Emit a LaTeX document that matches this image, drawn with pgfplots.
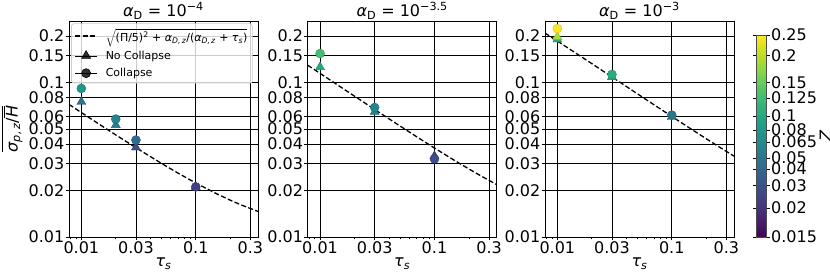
\documentclass[border=0pt]{standalone}
\usepackage{fontspec}
\setmainfont{DejaVu Sans}
\usepackage{pgfplots}
\pgfplotsset{compat=1.18}
\usepgfplotslibrary{colormaps}
\newcommand{\ylab}{$\overline{\mbox{{\itshape σ}\textsubscript{\itshape p,\,z}/$\overline{\mbox{\itshape H}}$}}$}
\pgfplotsset{
  colormap/viridis,
  fitline/.style={black, line width=1.3bp, dash pattern=on 5bp off 2.4bp},
  circ/.style={scatter, only marks, scatter src=explicit, mark=*, mark size=4.5bp, forget plot},
  tri/.style={scatter, only marks, scatter src=explicit, mark=triangle*, mark size=5.2bp, forget plot},
  lineleg/.style={legend image code/.code={\draw[##1] (0bp,0bp) -- (22bp,0bp);}},
  markleg/.style={legend image code/.code={\path (0bp,0bp) -- (22bp,0bp); \draw[##1] plot coordinates {(11bp,0bp)};}},
}
\begin{document}
\begin{tikzpicture}
\path[use as bounding box] (0,0) rectangle (830bp,277bp);
% Panel 1
\begin{axis}[at={(69bp,40bp)},
    anchor=south west, scale only axis, width=189bp, height=216bp,
    xmode=log, ymode=log, xmin=0.0078, xmax=0.35, ymin=0.01, ymax=0.25,
    xtick={0.01,0.03,0.1,0.3}, xticklabels={0.01,0.03,0.1,0.3},
    minor xtick={0.008,0.009,0.02,0.04,0.05,0.06,0.07,0.08,0.09,0.2},
    ytick={0.01,0.02,0.03,0.04,0.05,0.06,0.08,0.1,0.15,0.2},
    yticklabels={0.01,0.02,0.03,0.04,0.05,0.06,0.08,0.1,0.15,0.2},
    grid=major, major grid style={black, line width=0.7bp},
    tick align=outside, major tick length=3.5bp, minor tick length=2bp,
    tick style={black, line width=0.7bp},
    xtick pos=left, ytick pos=left,
    axis line style={black, line width=0.8bp},
    tick label style={font=\fontsize{16bp}{19bp}\selectfont},
    yticklabel style={inner xsep=1bp},
    xticklabel style={inner ysep=1bp},
    xlabel={{\itshape τ}\textsubscript{\itshape s}},
    xlabel style={font=\fontsize{16bp}{19bp}\selectfont, at={(axis description cs:0.5,-0.1375)}, anchor=base},
    title style={font=\fontsize{16bp}{19bp}\selectfont, at={(axis description cs:0.5,0.992)}, anchor=base},
    point meta min=0, point meta max=1,
  title={{\itshape α}\textsubscript{D} = 10\textsuperscript{−4}},
  ylabel={\ylab},
  ylabel style={font=\fontsize{16bp}{19bp}\selectfont, at={(axis description cs:-0.30,0.5)}, anchor=center},
  legend style={at={(axis description cs:0.972,0.989)}, anchor=north east,
    draw=black!20, line width=0.6bp, rounded corners=2.5bp, fill=white, fill opacity=0.8, text opacity=1,
    font=\fontsize{11bp}{13bp}\selectfont, inner xsep=3bp, inner ysep=3bp, row sep=3.5bp,
    /tikz/every odd column/.append style={column sep=6bp}},
  legend cell align=left]
\addplot[fitline, lineleg] coordinates {
(0.0078,0.07213) (0.01,0.06391) (0.015,0.05253) (0.02,0.04578) (0.03,0.03784) (0.05,0.02999)
(0.07,0.02591) (0.1,0.02236) (0.15,0.01915) (0.2,0.01732) (0.25,0.01612) (0.35,0.01464)};
\addlegendentry{$\sqrt{\mbox{(Π/5)\textsuperscript{2} + {\itshape α}\textsubscript{\itshape D,\,z}/({\itshape α}\textsubscript{\itshape D,\,z} + {\itshape τ}\textsubscript{\itshape s})}}$}
\addlegendimage{black, only marks, mark=triangle*, mark size=5.2bp, markleg}
\addlegendentry{No Collapse}
\addlegendimage{black, only marks, mark=*, mark size=4.5bp, markleg}
\addlegendentry{Collapse}
\addplot[tri] coordinates {(0.01,0.0749)[0.38] (0.02,0.053)[0.41] (0.03,0.038)[0.24] (0.1,0.0211)[0.17]};
\addplot[circ] coordinates {(0.01,0.0915)[0.53] (0.02,0.058)[0.45] (0.03,0.0424)[0.35] (0.1,0.0211)[0.18]};
\end{axis}
% Panel 2
\begin{axis}[at={(307.7bp,40bp)},
    anchor=south west, scale only axis, width=189bp, height=216bp,
    xmode=log, ymode=log, xmin=0.0078, xmax=0.35, ymin=0.01, ymax=0.25,
    xtick={0.01,0.03,0.1,0.3}, xticklabels={0.01,0.03,0.1,0.3},
    minor xtick={0.008,0.009,0.02,0.04,0.05,0.06,0.07,0.08,0.09,0.2},
    ytick={0.01,0.02,0.03,0.04,0.05,0.06,0.08,0.1,0.15,0.2},
    yticklabels={0.01,0.02,0.03,0.04,0.05,0.06,0.08,0.1,0.15,0.2},
    grid=major, major grid style={black, line width=0.7bp},
    tick align=outside, major tick length=3.5bp, minor tick length=2bp,
    tick style={black, line width=0.7bp},
    xtick pos=left, ytick pos=left,
    axis line style={black, line width=0.8bp},
    tick label style={font=\fontsize{16bp}{19bp}\selectfont},
    yticklabel style={inner xsep=1bp},
    xticklabel style={inner ysep=1bp},
    xlabel={{\itshape τ}\textsubscript{\itshape s}},
    xlabel style={font=\fontsize{16bp}{19bp}\selectfont, at={(axis description cs:0.5,-0.1375)}, anchor=base},
    title style={font=\fontsize{16bp}{19bp}\selectfont, at={(axis description cs:0.5,0.992)}, anchor=base},
    point meta min=0, point meta max=1,
  title={{\itshape α}\textsubscript{D} = 10\textsuperscript{−3.5}}]
\addplot[fitline] coordinates {
(0.0078,0.12939) (0.01,0.11458) (0.015,0.09393) (0.02,0.08159) (0.03,0.06694) (0.05,0.05228)
(0.07,0.04452) (0.1,0.03766) (0.15,0.03129) (0.2,0.02756) (0.25,0.02505) (0.35,0.02184)};
\addplot[tri] coordinates {(0.01,0.126)[0.60] (0.03,0.0645)[0.43] (0.1,0.0334)[0.22]};
\addplot[circ] coordinates {(0.01,0.154)[0.70] (0.03,0.0689)[0.46] (0.1,0.0320)[0.24]};
\end{axis}
% Panel 3
\begin{axis}[at={(545bp,40bp)},
    anchor=south west, scale only axis, width=189bp, height=216bp,
    xmode=log, ymode=log, xmin=0.0078, xmax=0.35, ymin=0.01, ymax=0.25,
    xtick={0.01,0.03,0.1,0.3}, xticklabels={0.01,0.03,0.1,0.3},
    minor xtick={0.008,0.009,0.02,0.04,0.05,0.06,0.07,0.08,0.09,0.2},
    ytick={0.01,0.02,0.03,0.04,0.05,0.06,0.08,0.1,0.15,0.2},
    yticklabels={0.01,0.02,0.03,0.04,0.05,0.06,0.08,0.1,0.15,0.2},
    grid=major, major grid style={black, line width=0.7bp},
    tick align=outside, major tick length=3.5bp, minor tick length=2bp,
    tick style={black, line width=0.7bp},
    xtick pos=left, ytick pos=left,
    axis line style={black, line width=0.8bp},
    tick label style={font=\fontsize{16bp}{19bp}\selectfont},
    yticklabel style={inner xsep=1bp},
    xticklabel style={inner ysep=1bp},
    xlabel={{\itshape τ}\textsubscript{\itshape s}},
    xlabel style={font=\fontsize{16bp}{19bp}\selectfont, at={(axis description cs:0.5,-0.1375)}, anchor=base},
    title style={font=\fontsize{16bp}{19bp}\selectfont, at={(axis description cs:0.5,0.992)}, anchor=base},
    point meta min=0, point meta max=1,
  title={{\itshape α}\textsubscript{D} = 10\textsuperscript{−3}},
  colorbar,
  colorbar style={scale only axis, at={(parent axis.south east)}, anchor=south west, xshift=14bp,
    width=10bp, height=202bp,
    ytick={0,0.143,0.255,0.337,0.391,0.47,0.53,0.599,0.688,0.764,0.897,1},
    yticklabels={0.015,0.02,0.03,0.04,0.05,0.065,0.08,0.1,0.125,0.15,0.2,0.25},
    yticklabel pos=right, tick align=outside, major tick length=3.5bp,
    tick style={black, line width=0.7bp},
    axis line style={black!70, line width=0.7bp},
    yticklabel style={font=\fontsize{16bp}{19bp}\selectfont, inner xsep=1bp},
    ylabel={\itshape Z},
    ylabel style={font=\fontsize{16bp}{19bp}\selectfont, inner sep=0bp, at={(axis description cs:6.9,0.5)}, anchor=center}}]
\addplot[fitline] coordinates {
(0.0078,0.20888) (0.01,0.18543) (0.015,0.15238) (0.02,0.13244) (0.03,0.10861) (0.05,0.08456)
(0.07,0.07174) (0.1,0.06031) (0.15,0.04961) (0.2,0.04327) (0.25,0.03896) (0.35,0.03336)};
\addplot[tri] coordinates {(0.01,0.190)[0.60]};
\addplot[tri] coordinates {(0.01,0.197)[0.88] (0.03,0.1085)[0.58] (0.1,0.0599)[0.37]};
\addplot[circ] coordinates {(0.01,0.223)[1.0] (0.03,0.1127)[0.62] (0.1,0.0615)[0.40]};
\end{axis}
\end{tikzpicture}
\end{document}
